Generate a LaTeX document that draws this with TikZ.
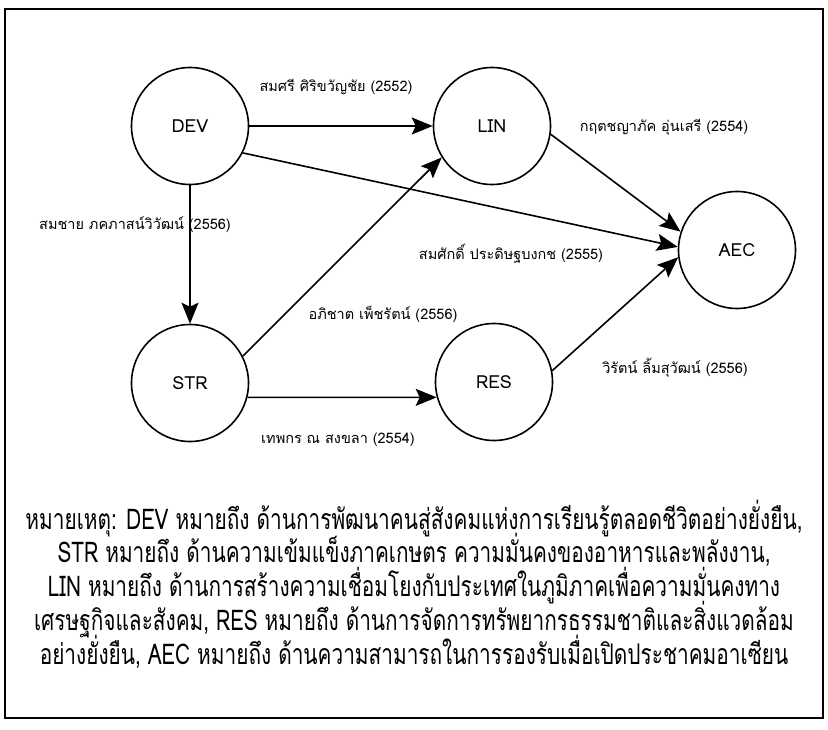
\documentclass[tikz,border=0pt]{standalone}
\usepackage{fontspec}
\usetikzlibrary{arrows.meta}
\newfontfamily\thaifont[Script=Thai]{Loma}
\newfontfamily\thainarrow[Script=Thai,FakeStretch=0.73]{Loma}
\begin{document}
\begin{tikzpicture}[x=1pt,y=-1pt,
  state/.style={circle,draw,line width=1.6pt,minimum size=117pt,inner sep=0pt,font=\thaifont\fontsize{18}{20}\selectfont},
  link/.style={line width=1.6pt,-{Stealth[length=21pt,width=17pt,inset=4pt]}},
  lbl/.style={font=\thaifont\fontsize{14.5}{17}\selectfont,inner sep=0pt,anchor=base},
  legend/.style={font=\thainarrow\fontsize{28.5}{31}\selectfont,inner sep=0pt,anchor=base}]
\useasboundingbox (0,0) rectangle (828,729);
\draw[line width=1.6pt] (5,9) rectangle (823,718);

\node[state] (DEV) at (190,126) {DEV};
\node[state] (LIN) at (492,126) {LIN};
\node[state] (AEC) at (737,250) {AEC};
\node[state] (STR) at (190,383) {STR};
\node[state] (RES) at (494,382) {RES};

\draw[link] (DEV.east) -- (LIN.west);
\draw[link] (DEV.-27) -- (AEC.177);
\draw[link] (LIN.-8) -- (AEC.162);
\draw[link] (DEV.south) -- (STR.north);
\draw[link] (STR.27) -- (LIN.212);
\draw[link] (STR.-14) -- (RES.195);
\draw[link] (RES.11) -- (AEC.187);

\node[lbl] (l1) at (336,91) {สมศรี ศิริขวัญชัย (2552)};
\node[lbl] (l2) at (664,131) {กฤตชญาภัค อุ่นเสรี (2554)};
\node[lbl] (l3) at (135,229) {สมชาย ภคภาสน์วิวัฒน์ (2556)};
\node[lbl] (l4) at (511,259) {สมศักดิ์ ประดิษฐบงกช (2555)};
\node[lbl] (l5) at (383,319) {อภิชาต เพ็ชรัตน์ (2556)};
\node[lbl] (l6) at (675,373) {วิรัตน์ ลิ้มสุวัฒน์ (2556)};
\node[lbl] (l7) at (338,443) {เทพกร ณ สงขลา (2554)};

\node[legend] (g1) at (414,529) {หมายเหตุ: DEV หมายถึง ด้านการพัฒนาคนสู่สังคมแห่งการเรียนรู้ตลอดชีวิตอย่างยั่งยืน,};
\node[legend] (g2) at (414,562) {STR หมายถึง ด้านความเข้มแข็งภาคเกษตร ความมั่นคงของอาหารและพลังงาน,};
\node[legend] (g3) at (414,596) {LIN หมายถึง ด้านการสร้างความเชื่อมโยงกับประเทศในภูมิภาคเพื่อความมั่นคงทาง};
\node[legend] (g4) at (414,630) {เศรษฐกิจและสังคม, RES หมายถึง ด้านการจัดการทรัพยากรธรรมชาติและสิ่งแวดล้อม};
\node[legend] (g5) at (414,664) {อย่างยั่งยืน, AEC หมายถึง ด้านความสามารถในการรองรับเมื่อเปิดประชาคมอาเซียน};
\end{tikzpicture}
\end{document}
